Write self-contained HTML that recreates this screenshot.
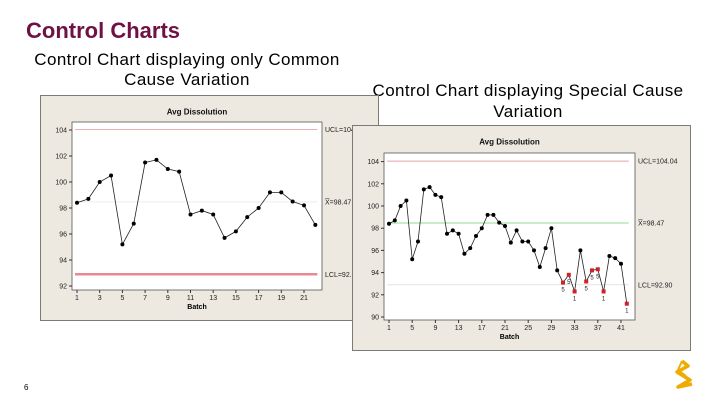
<!DOCTYPE html>
<html><head><meta charset="utf-8"><style>
body{margin:0;width:720px;height:405px;background:#fff;overflow:hidden;font-family:"Liberation Sans",sans-serif;position:relative}
.t{position:absolute;margin:0;white-space:nowrap}
</style></head><body>
<div class="t" style="left:26px;top:18px;font-size:22px;font-weight:bold;color:#6e1244">Control Charts</div>
<div class="t" style="left:17px;top:50px;width:340px;text-align:center;font-size:17px;letter-spacing:0.4px;line-height:20px;color:#000">Control Chart displaying only Common<br>Cause Variation</div>
<div class="t" style="left:358px;top:80px;width:340px;text-align:center;font-size:17px;letter-spacing:0.4px;line-height:21px;color:#000">Control Chart displaying Special Cause<br>Variation</div>
<div class="t" style="left:24px;top:383px;font-size:8px">6</div>
<svg style="position:absolute;left:668px;top:358px" width="30" height="32" viewBox="0 0 30 32"><path d="M14 3 L20 8 L9 14 L22 22 L10 29 L24 26" fill="none" stroke="#f0ab00" stroke-width="3.5" stroke-linejoin="round"/><path d="M14 3 L10 12 L18 18" fill="none" stroke="#f0ab00" stroke-width="2"/></svg>
<svg id="s" width="720" height="405" style="position:absolute;left:0;top:0" font-family="Liberation Sans, sans-serif"></svg>
<script>
const common=[98.4,98.7,100,100.5,95.2,96.8,101.5,101.7,101,100.8,97.5,97.8,97.5,95.7,96.2,97.3,98,99.2,99.2,98.5,98.2,96.7];
const special=[98.4,98.7,100,100.5,95.2,96.8,101.5,101.7,101,100.8,97.5,97.8,97.5,95.7,96.2,97.3,98,99.2,99.2,98.5,98.2,96.7,97.8,96.8,96.8,96.0,94.5,96.2,98.0,94.2,93.1,93.8,92.3,96.0,93.2,94.2,94.3,92.3,95.5,95.3,94.8,91.2];
const specialFlags=["","","","","","","","","","","","","","","","","","","","","","","","","","","","","","","5","5","1","","5","5","5","1","","","","1"];
const leftYTicks=[92,94,96,98,100,102,104];
const leftXTicks=[1,3,5,7,9,11,13,15,17,19,21];
const rightYTicks=[90,92,94,96,98,100,102,104];
const rightXTicks=[1,5,9,13,17,21,25,29,33,37,41];
const limits={ucl:104.04,center:98.47,lcl:92.90};
const NS="http://www.w3.org/2000/svg";
const svg=document.getElementById('s');
function mk(tag,at,parent){const e=document.createElementNS(NS,tag);for(const k in at)e.setAttribute(k,at[k]);(parent||svg).appendChild(e);return e;}
function chart(cfg){
  const g=mk('g',{});
  
  
  const bg=mk('rect',{x:cfg.bx,y:cfg.by,width:cfg.bw,height:cfg.bh,fill:'#ede9e0',stroke:'#7a7a7a','stroke-width':1},g);
  
  
  const pa=mk('rect',{x:cfg.px,y:cfg.py,width:cfg.pw,height:cfg.ph,fill:'#fff',stroke:'#555','stroke-width':0.8},g);
  
  
  const X=v=>cfg.x0+(v-1)*cfg.xs;
  const Y=v=>cfg.y0-(v-cfg.ymin)*cfg.ys;
  const t=mk('text',{x:cfg.px+cfg.pw/2,y:cfg.by+19,'font-size':8,'font-weight':'bold','text-anchor':'middle',fill:'#111'},g);t.textContent='Avg Dissolution';
  
  
  cfg.yt.forEach(v=>{mk('line',{x1:cfg.px-3,x2:cfg.px,y1:Y(v),y2:Y(v),stroke:'#333'},g);
    const l=mk('text',{x:cfg.px-5,y:Y(v)+2.5,'font-size':7,'text-anchor':'end',fill:'#222'},g);l.textContent=v;
    
    });
  cfg.xt.forEach(v=>{mk('line',{x1:X(v),x2:X(v),y1:cfg.py+cfg.ph,y2:cfg.py+cfg.ph+3,stroke:'#333'},g);
    const l=mk('text',{x:X(v),y:cfg.py+cfg.ph+10,'font-size':7,'text-anchor':'middle',fill:'#222'},g);l.textContent=v;
    
    });
  const xl=mk('text',{x:cfg.px+cfg.pw/2,y:cfg.py+cfg.ph+19,'font-size':7,'font-weight':'bold','text-anchor':'middle'},g);xl.textContent='Batch';
  
  
  const x1=X(1)-2,x2=X(cfg.data.length)+2;
  [[limits.ucl,cfg.uc,1,'UCL='+cfg.ul],[limits.center,cfg.cc,1,'X\u0305=98.47'],[limits.lcl,cfg.lc,cfg.lw,'LCL='+cfg.ll]].forEach(d=>{
    const ln=mk('line',{x1:x1,x2:x2,y1:Y(d[0]),y2:Y(d[0]),stroke:d[1],'stroke-width':d[2]},g);
    
    
    const l=mk('text',{x:cfg.px+cfg.pw+3,y:Y(d[0])+2.5,'font-size':7,fill:'#222'},g);l.textContent=d[3];
    
    });
  const pl=mk('polyline',{points:cfg.data.map((v,i)=>X(i+1)+','+Y(v)).join(' '),fill:'none',stroke:'#222','stroke-width':0.8},g);
  
  
  cfg.data.forEach((v,i)=>{const f=cfg.flags&&cfg.flags[i];
    let p;
    if(f){p=mk('rect',{x:X(i+1)-2,y:Y(v)-2,width:4,height:4,fill:'#d0202a'},g);
      const l=mk('text',{x:X(i+1),y:Y(v)+9,'font-size':6,'text-anchor':'middle',fill:'#222'},g);l.textContent=f;
      
      }
    else p=mk('circle',{cx:X(i+1),cy:Y(v),r:2,fill:'#000'},g);
    
    });
}
chart({name:'common-cause-chart',bx:40.5,by:95.5,bw:338,bh:225,px:72,py:122,pw:250,ph:168,x0:77,xs:11.35,y0:286,ymin:92,ys:13,
  yt:leftYTicks,xt:leftXTicks,data:common,uc:'#eab0b6',cc:'#e6f0e0',lc:'#e88890',lw:2.5,ul:'104.04',ll:'92.90'});
chart({name:'special-cause-chart',bx:352.5,by:125.5,bw:338,bh:225,px:384,py:153,pw:251,ph:167,x0:389,xs:5.8,y0:317,ymin:90,ys:11.1,
  yt:rightYTicks,xt:rightXTicks,data:special,flags:specialFlags,uc:'#e8a0a8',cc:'#8fd88f',lc:'#e4e4e4',lw:1,ul:'104.04',ll:'92.90'});
</script>
</body></html>
